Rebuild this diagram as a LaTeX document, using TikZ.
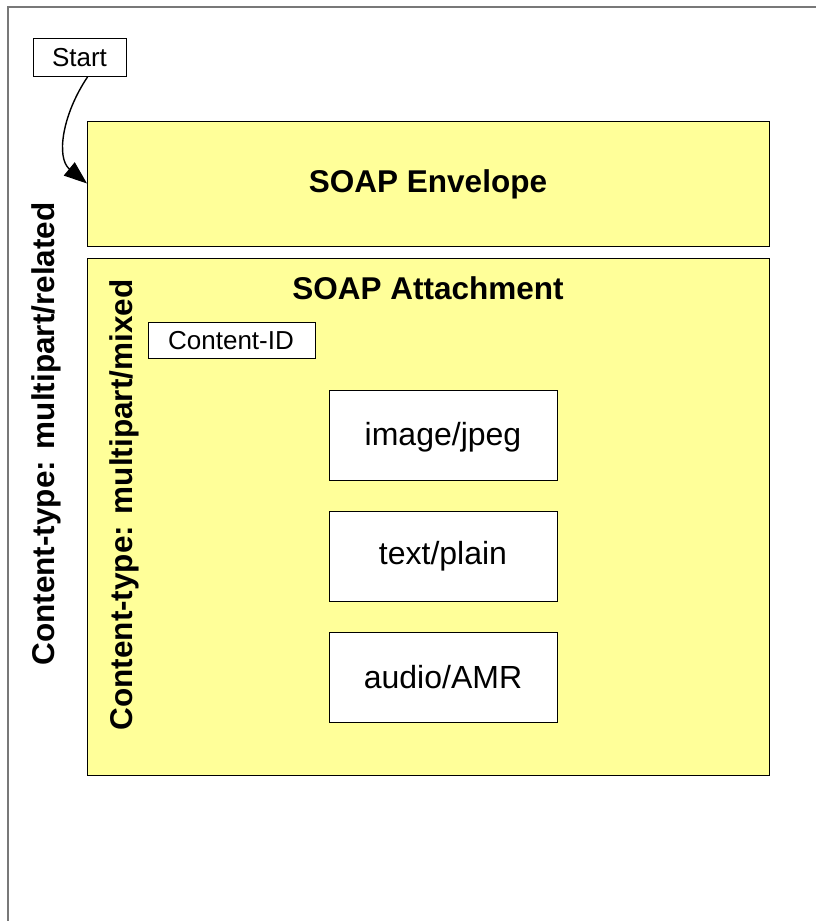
\documentclass[tikz,border=0pt]{standalone}
\usepackage{fontspec}
\setmainfont{Liberation Sans}
\usetikzlibrary{arrows.meta,calc}
\definecolor{soapyellow}{RGB}{255,255,153}
\definecolor{framegray}{RGB}{120,120,120}
\tikzset{
  panel/.style={draw=black, line width=1pt, fill=soapyellow, anchor=north west, inner sep=0pt},
  whitebox/.style={draw=black, line width=1pt, fill=white, anchor=north west, inner sep=0pt},
  bigtitle/.style={font=\fontsize{31.5}{36}\selectfont\bfseries, inner sep=0pt},
  plaintext/.style={font=\fontsize{32}{38}\selectfont, inner sep=0pt},
  smalltext/.style={font=\fontsize{26}{30}\selectfont, inner sep=0pt},
}
\begin{document}
\begin{tikzpicture}[x=1pt, y=-1pt]
\useasboundingbox (0,0) rectangle (816,921);
\fill[white] (0,0) rectangle (816,921);
% outer frame
\draw[framegray, line width=1.5pt] (8,921) -- (8,7) -- (816,7);
% panels
\node[panel, minimum width=682pt, minimum height=125pt] (env) at (87,121) {};
\node[bigtitle] (envt) at (428,184) {SOAP Envelope};
\node[panel, minimum width=682pt, minimum height=517pt] (att) at (87,258) {};
\node[bigtitle] (attt) at (428,288) {SOAP Attachment};
% start box
\node[whitebox, minimum width=93pt, minimum height=38pt] (start) at (33,38) {};
\node[smalltext] (startt) at (79.5,58) {Start};
% content-id
\node[whitebox, minimum width=167pt, minimum height=36pt] (cid) at (148,322) {};
\node[smalltext] (cidt) at (231,341) {Content-ID};
% media boxes
\node[whitebox, minimum width=228pt, minimum height=90pt] (img) at (329,390) {};
\node[plaintext] (imgt) at (443,437) {image/jpeg};
\node[whitebox, minimum width=228pt, minimum height=90pt] (txt) at (329,511) {};
\node[plaintext] (txtt) at (443,556) {text/plain};
\node[whitebox, minimum width=228pt, minimum height=90pt] (aud) at (329,632) {};
\node[plaintext] (audt) at (443,677) {audio/AMR};
% rotated labels
\node[bigtitle, rotate=90] (related) at (46,434) {Content-type: multipart/related};
\node[bigtitle, rotate=90] (mixed) at (124,505) {Content-type: multipart/mixed};
% arrow
\coordinate (from) at ($(start.south)+(7.5,0)$);
\coordinate (tip) at ($(env.west)+(0,-0.5)$);
\draw[line width=1.4pt, -{Triangle[length=23pt, width=17pt]}] (from) .. controls (62,115) and (56,158) .. (tip);
\end{tikzpicture}
\end{document}
